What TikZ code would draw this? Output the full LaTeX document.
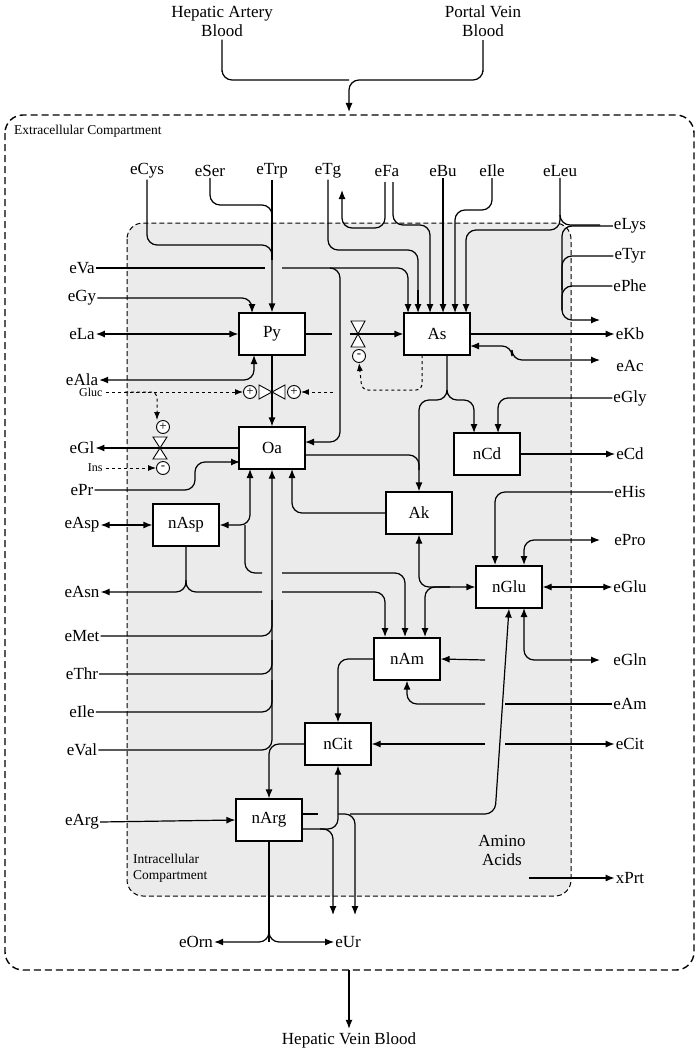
\documentclass[tikz,border=0pt]{standalone}
\usepackage{fontspec}
\setmainfont{Liberation Serif}
\usetikzlibrary{arrows.meta}
\begin{document}
\begin{tikzpicture}[x=1pt,y=-1pt,
  every node/.style={font=\fontsize{17}{19}\selectfont},
  ln/.style={line width=1.2pt,rounded corners=10pt},
  ar/.style={ln,-{Latex[length=9pt,width=7pt]}},
  da/.style={ln,{Latex[length=9pt,width=7pt]}-{Latex[length=9pt,width=7pt]}},
  ra/.style={ln,{Latex[length=9pt,width=7pt]}-},
  dsh/.style={line width=1pt,dashed,rounded corners=6pt},
  dar/.style={dsh,-{Latex[length=8pt,width=6pt]}},
  box/.style={draw,line width=1.2pt,fill=white,minimum width=66pt,minimum height=42pt,inner sep=0pt},
  lab/.style={inner sep=1pt},
  sm/.style={font=\fontsize{13.5}{15.5}\selectfont,align=left,inner sep=0pt},
  cir/.style={draw,circle,fill=white,line width=0.9pt,minimum size=13pt,inner sep=0pt,font=\fontsize{13}{13}\selectfont}]
\useasboundingbox (0,0) rectangle (697,1062);
% compartments
\draw[line width=1.4pt,dash pattern=on 7pt off 4pt,rounded corners=18pt] (5,115) rectangle (694,970);
\draw[line width=1pt,dash pattern=on 5pt off 3pt,fill=black!8,rounded corners=16pt] (127,223) rectangle (571,896);
\node[sm,anchor=west] (ext) at (14,131) {Extracellular Compartment};
\node[sm,anchor=west] (intc) at (133,868) {Intracellular\\Compartment};
% boxes
\node[box] (Py) at (272,334) {Py};
\node[box] (As) at (437,334) {As};
\node[box] (Oa) at (272,448) {Oa};
\node[box] (nCd) at (487,454) {nCd};
\node[box] (Ak) at (419,513) {Ak};
\node[box] (nAsp) at (186,525) {nAsp};
\node[box] (nGlu) at (509,587) {nGlu};
\node[box] (nAm) at (407,659) {nAm};
\node[box] (nCit) at (338,744) {nCit};
\node[box] (nArg) at (269,820) {nArg};
% texts
\node[align=center] (ha) at (222,21) {Hepatic Artery\\Blood};
\node[align=center] (pv) at (483,21) {Portal Vein\\Blood};
\node (hv) at (349,1040) {Hepatic Vein Blood};
\node[align=center] (aa) at (502,850) {Amino\\Acids};
\foreach \n/\x in {eCys/147,eSer/210,eTrp/272,eTg/328,eFa/387,eBu/443,eIle/492,eLeu/560}
  \node[lab] (t\n) at (\x,171) {\n};
\foreach \n/\y in {eVa/268,eGy/298,eLa/334,eAla/380,eGl/448,ePr/490,eAsp/525,eAsn/592,eMet/636,eThr/674,eIle/712,eVal/750,eArg/822}
  \node[lab] (l\n) at (82,\y) {\n};
\foreach \n/\y in {eLys/226,eTyr/256,ePhe/286,eKb/334,eAc/366,eGly/398,eCd/454,eHis/492,ePro/540,eGlu/587,eGln/660,eAm/704,eCit/744,xPrt/878}
  \node[lab] (r\n) at (630,\y) {\n};
\node[lab] (eOrn) at (196,942) {eOrn};
\node[lab] (eUr) at (348,942) {eUr};
\node[font=\fontsize{12}{13}\selectfont,anchor=east] (gluc) at (106,392) {Gluc};
\node[font=\fontsize{12}{13}\selectfont,anchor=east] (ins) at (106,468) {Ins};
% blood
\draw[ln] (ha.south) -- (222,62) -- (222,80) -- (349,80);
\draw[ar] (pv.south) -- (483,62) -- (483,80) -- (349,80) -- (349,112);
\draw[ar] (349,970) -- (hv.north);
% top inputs
\draw[ar] (teCys.south) -- (147,245) -- (272,245) -- (Py.north);
\draw[ln] (teSer.south) -- (210,205) -- (272,205) -- (272,260);
\draw[ln] (teTrp.south) -- (272,260);
\draw[ln] (teTg.south) -- (328,250) -- (418,250) -- (418,300);
\draw[ar] (418,290) -- (418,313);
\draw[ar] (385,182) -- (385,228) -- (342,228) -- (342,190);
\draw[ar] (393,182) -- (393,225) -- (430,225) -- (430,313);
\draw[ar] (teBu.south) -- (443,313);
\draw[ar] (teIle.south) -- (492,210) -- (455,210) -- (455,313);
\draw[ar] (teLeu.south) -- (560,230) -- (466,230) -- (466,313);
\draw[ln] (560,215) -- (560,225) -- (600,225);
\draw[ar] (reLys.west) -- (562,226) -- (562,320) -- (600,320);
\draw[ln] (reTyr.west) -- (562,256) -- (562,290);
\draw[ln] (rePhe.west) -- (562,286) -- (562,310);
% eVa
\draw[ln] (leVa.east) -- (265,268);
\draw[ar] (282,268) -- (408,268) -- (408,313);
\draw[ar] (330,268) -- (340,268) -- (340,442) -- (305,442);
\draw[ar] (leGy.east) -- (252,298) -- (252,313);
\draw[da] (leLa.east) -- (Py.west);
\draw[da] (leAla.east) -- (254,380) -- (254,355);
% Py -> As with valve
\draw[ln] (Py.east) -- (332,334);
\draw[ar] (350,334) -- (As.west);
\draw[line width=0.9pt,fill=white] (351,321) -- (365,321) -- (358,334) -- cycle;
\draw[line width=0.9pt,fill=white] (351,347) -- (365,347) -- (358,334) -- cycle;
\node[cir] (cm1) at (359,356) {-};
\draw[dar] (422,355) -- (422,390) -- (362,390) -- (cm1.south);
% Py -> Oa with valve
\draw[ar] (Py.south) -- (Oa.north);
\draw[line width=0.9pt,fill=white] (259,385) -- (259,399) -- (272,392) -- cycle;
\draw[line width=0.9pt,fill=white] (285,385) -- (285,399) -- (272,392) -- cycle;
\node[cir] (cp1) at (250,392) {+};
\node[cir] (cp2) at (294,392) {+};
\draw[dar] (gluc.east) -- (cp1.west);
\draw[dar] (333,392) -- (cp2.east);
% eGl valve
\draw[ar] (Oa.west) -- (leGl.east);
\draw[line width=0.9pt,fill=white] (153,437) -- (167,437) -- (160,448) -- cycle;
\draw[line width=0.9pt,fill=white] (153,459) -- (167,459) -- (160,448) -- cycle;
\node[cir] (cp3) at (163,427) {+};
\node[cir] (cm2) at (163,468) {-};
\draw[dar] (125,392) -- (157,392) -- (157,420);
\draw[dar] (ins.east) -- (cm2.west);
\draw[ar] (lePr.east) -- (195,490) -- (195,462) -- (240,462);
% Oa bottom
\draw[da] (250,469) -- (250,525) -- (nAsp.east);
\draw[ln] (245,525) -- (245,573) -- (262,573);
\draw[ar] (282,573) -- (405,573) -- (405,637);
\draw[da] (leAsp.east) -- (nAsp.west);
\draw[ra] (leAsn.east) -- (186,592) -- (nAsp.south);
\draw[ln] (186,580) -- (186,592) -- (262,592);
\draw[ar] (282,592) -- (385,592) -- (385,637);
\draw[ln] (leMet.east) -- (272,636) -- (272,600);
\draw[ln] (leThr.east) -- (272,674) -- (272,640);
\draw[ln] (leIle.east) -- (272,712) -- (272,680);
\draw[ar] (leVal.east) -- (272,750) -- (Oa.south);
\draw[ar] (Ak.west) -- (292,513) -- (292,469);
% Oa right, As bottom
\draw[ar] (305,455) -- (419,455) -- (Ak.north);
\draw[ln] (447,355) -- (447,400) -- (419,400) -- (419,470);
\draw[ar] (447,390) -- (447,400) -- (474,400) -- (474,433);
\draw[ar] (reGly.west) -- (498,398) -- (498,433);
\draw[ar] (nCd.east) -- (reCd.west);
\draw[ar] (As.east) -- (reKb.west);
\draw[da] (470,346) -- (512,346) -- (512,360) -- (600,360);
% nGlu area
\draw[ar] (reHis.west) -- (495,492) -- (495,565);
\draw[da] (600,540) -- (524,540) -- (524,565);
\draw[da] (nGlu.east) -- (reGlu.west);
\draw[da] (Ak.south) -- (419,587) -- (nGlu.west);
\draw[ar] (450,587) -- (425,587) -- (425,637);
\draw[da] (524,608) -- (524,660) -- (600,660);
\draw[ar] (485,660) -- (nAm.east);
\draw[ln] (reAm.west) -- (505,704);
\draw[ar] (485,704) -- (407,704) -- (nAm.south);
\draw[ar] (485,744) -- (nCit.east);
\draw[ar] (505,744) -- (reCit.west);
\draw[ar] (nAm.west) -- (338,659) -- (nCit.north);
\draw[ar] (nCit.west) -- (269,744) -- (nArg.north);
\draw[ar] (leArg.east) -- (nArg.west);
\draw[ar] (302,829) -- (338,829) -- (nCit.south);
\draw[ar] (320,829) -- (333,829) -- (333,915);
\draw[ln] (302,814) -- (318,814);
\draw[ar] (338,814) -- (355,814) -- (355,915);
\draw[ar] (350,814) -- (495,814) -- (nGlu.south);
\draw[ln] (nArg.south) -- (269,942);
\draw[ar] (269,930) -- (269,942) -- (eOrn.east);
\draw[ar] (269,930) -- (269,942) -- (eUr.west);
\draw[ar] (aa.east|-0,878) -- (rxPrt.west);
\end{tikzpicture}
\end{document}
